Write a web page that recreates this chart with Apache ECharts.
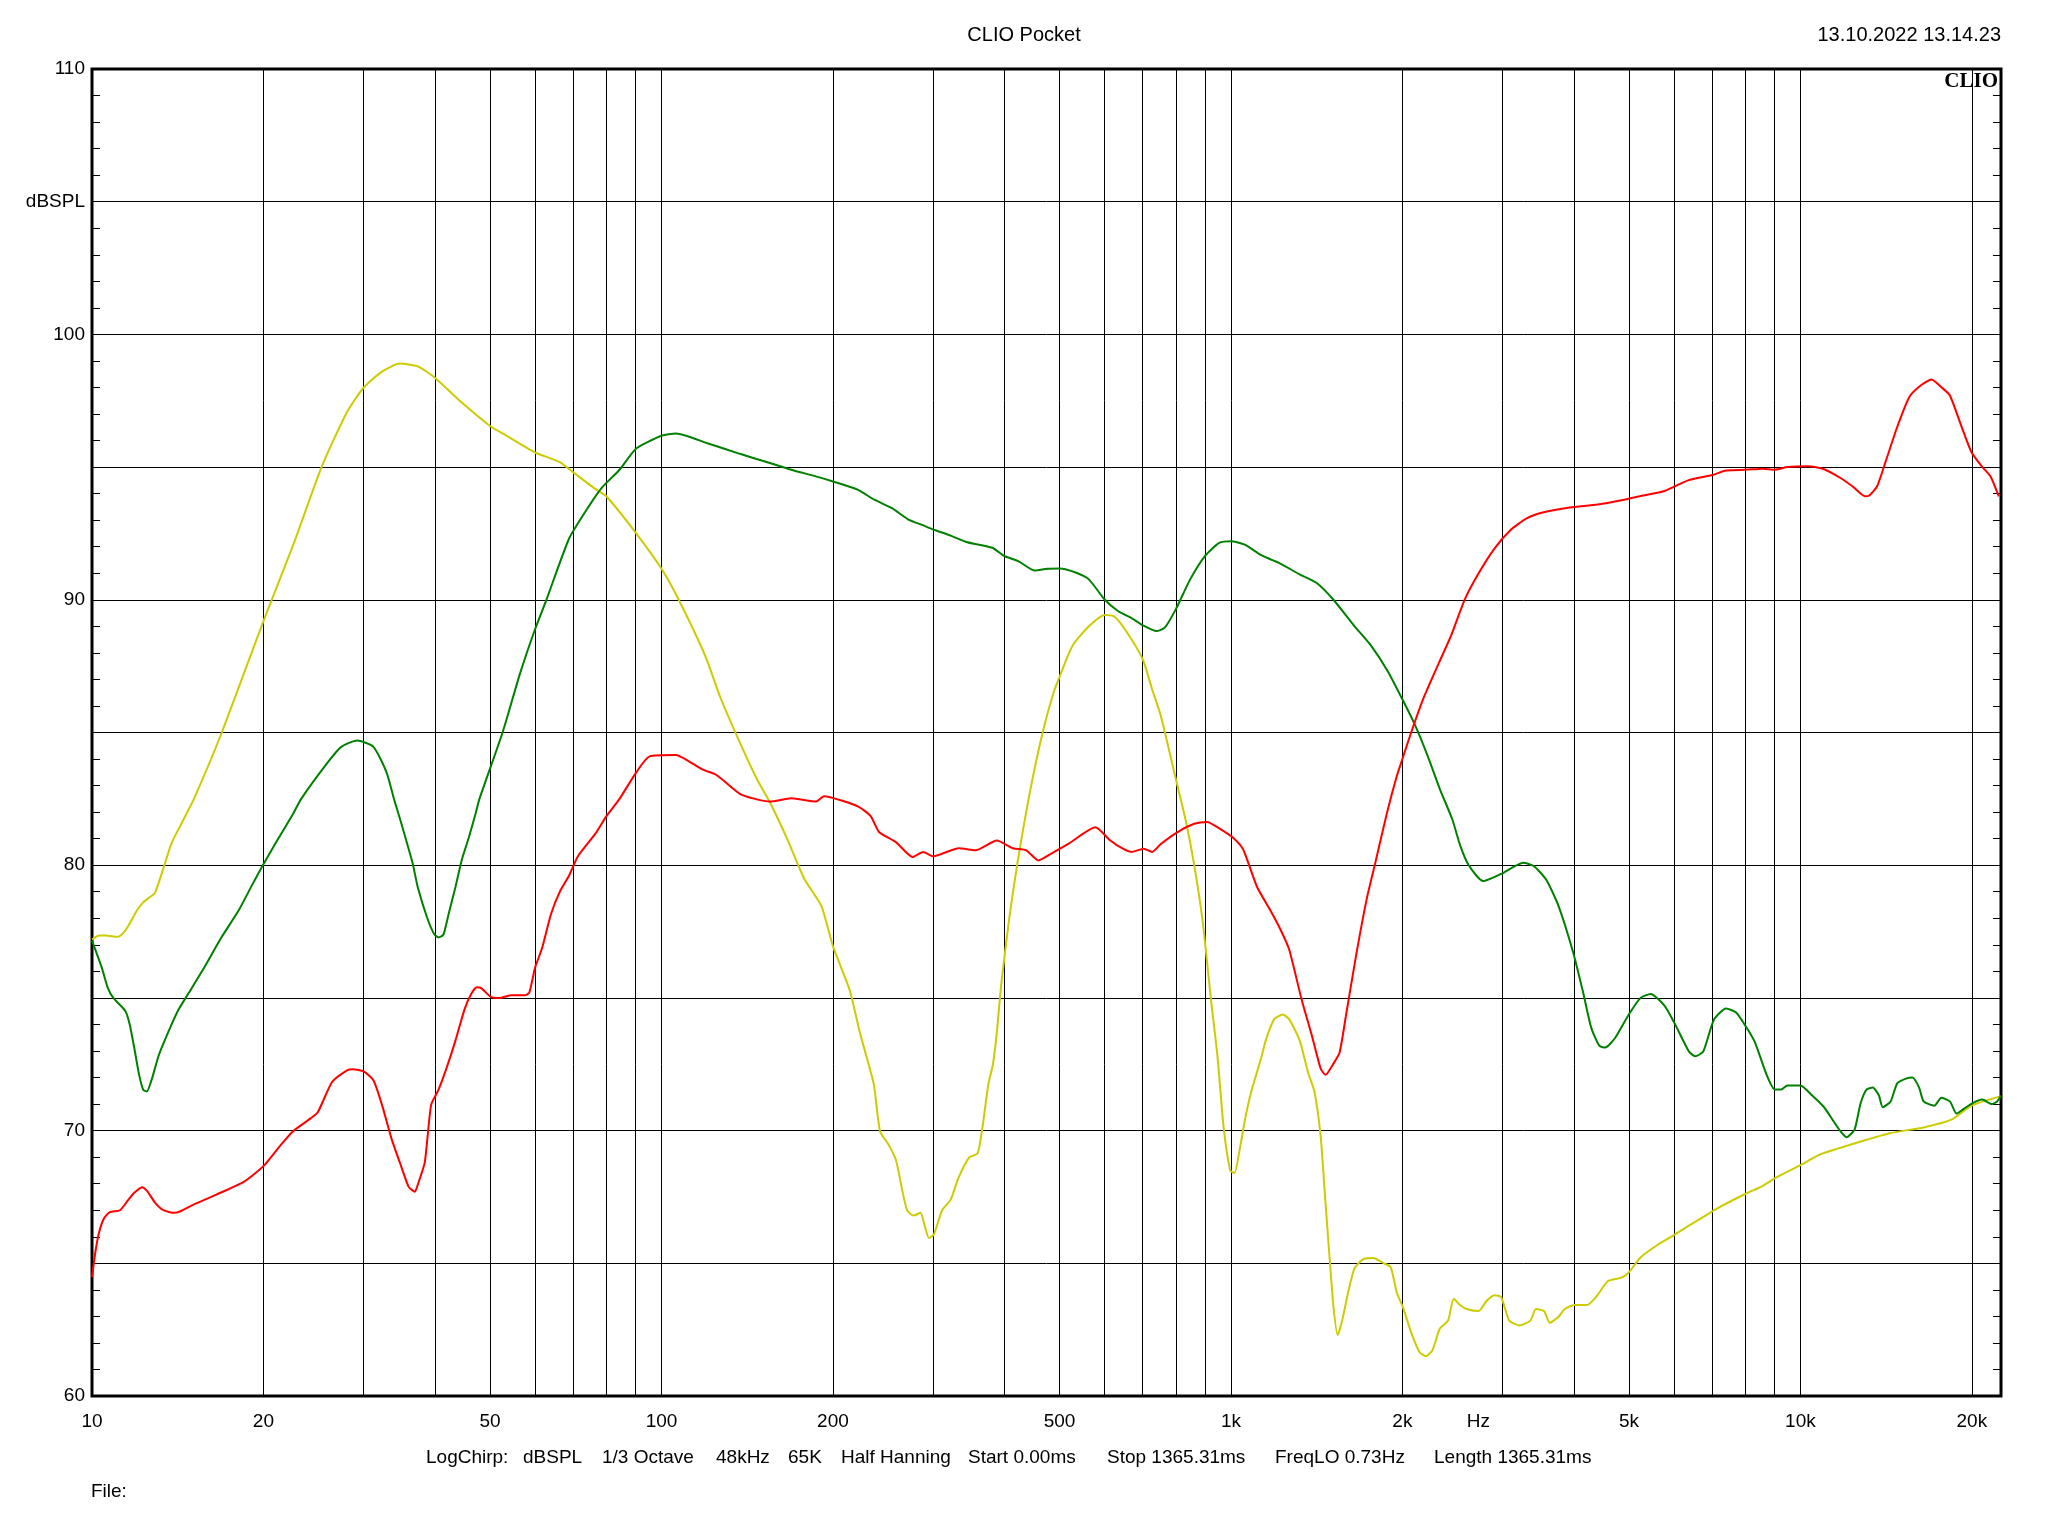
<!DOCTYPE html>
<html><head><meta charset="utf-8">
<script src="https://cdn.jsdelivr.net/npm/echarts@6/dist/echarts.min.js"></script>
<style>html,body{margin:0;padding:0;background:#fff}#c{width:2048px;height:1536px}</style>
</head><body><div id="c"></div>
<script>
// ---- data (frequency in Hz, level in dBSPL) ----
const yellowFreq = [10,10.3,10.55,11.1,11.35,11.6,12.0,12.3,12.6,12.9,13.4,13.8,14.3,15.1,16.9,20,22.5,25.3,28.0,30,32.3,34.7,37.3,40,44.6,50,53.5,60,66.4,70,76.6,80,90,100,107,119.3,127,137.3,147,155,166,178,191,200,214,223,229,236,242,250,258,265,270,277,285,290,295,301,311,322,332,347,359,366,375,382,388,395,408,422,444,467,488,500,527,563,600,624,657,700,727,753,800,834,862,892,923,947,971,997,1014,1040,1058,1085,1132,1151,1191,1233,1265,1320,1366,1402,1437,1462,1488,1513,1539,1566,1606,1647,1705,1778,1855,1908,1956,2004,2072,2144,2200,2258,2327,2405,2462,2524,2594,2723,2810,2902,2981,3081,3210,3355,3432,3546,3628,3758,3857,4011,4225,4377,4593,4834,4983,5239,5592,5976,6371,6811,7290,8015,8590,9011,10000,10820,12150,14350,16450,18450,19960,22470];
const yellowDb = [77.2,77.35,77.35,77.3,77.45,77.74,78.3,78.6,78.78,78.96,80.0,80.84,81.5,82.5,85.0,89.2,92.0,95.0,97.05,98.0,98.6,98.9,98.8,98.37,97.43,96.55,96.18,95.55,95.18,94.8,94.17,93.9,92.54,91.17,90.04,87.9,86.3,84.62,83.26,82.37,81.02,79.5,78.45,76.95,75.3,73.7,72.8,71.74,69.97,69.5,68.9,67.7,67.0,66.8,66.9,66.4,65.95,66.1,67.0,67.4,68.2,68.99,69.14,70.1,71.75,72.5,73.7,75.5,78.0,80.12,82.8,85.0,86.5,87.1,88.27,89.0,89.43,89.37,88.77,87.76,86.63,85.63,83.26,81.63,80.0,77.87,74.88,72.8,70.1,68.5,68.4,69.5,70.4,71.45,72.8,73.4,74.2,74.37,74.2,73.4,72.19,71.45,69.8,67.6,65.37,63.4,62.3,62.8,63.9,64.8,65.15,65.2,65.0,64.85,63.88,63.35,62.4,61.65,61.5,61.72,62.54,62.84,63.66,63.43,63.28,63.2,63.58,63.8,63.73,62.84,62.66,62.84,63.28,63.2,62.76,62.98,63.28,63.43,63.43,63.73,64.33,64.45,64.63,65.22,65.67,66.04,66.42,66.8,67.17,67.62,67.92,68.2,68.7,69.1,69.45,69.9,70.12,70.42,70.94,71.3];

const greenFreq = [10,10.4,10.65,10.9,11.45,11.65,11.86,12.1,12.3,12.48,12.75,13.1,13.7,14.2,14.8,15.6,16.9,18.1,19.1,20,21.3,22.5,23.3,26.0,27.4,29.2,31.2,32.9,33.9,34.9,36.6,37.3,38.8,39.9,40.6,41.4,42.3,43.5,44.6,45.9,47.1,47.9,52.6,56.4,60,62.8,68.8,73.4,78.4,84.4,90.3,100,106.1,120.4,137.3,152,168.9,186.7,200,221,236.5,253.6,271.4,286,300,321.7,344.4,381,400,423,452.5,476,500,535,563,600,634,668,700,740,765,800,848,900,955,1000,1058,1132,1212,1320,1413,1512,1646,1762,1886,2000,2108,2215,2327,2446,2527,2615,2772,2981,3262,3401,3578,3758,3984,4152,4291,4433,4541,4730,4981,5239,5458,5775,6016,6371,6532,6751,7048,7402,7710,8015,8313,8733,9011,9252,9485,10000,10475,11004,11370,11755,12050,12450,12750,13070,13400,13730,13950,14400,14790,15320,15730,16160,16450,17190,17670,18300,18800,19300,19990,20850,21670,22150,22470];
const greenDb = [77.16,76.15,75.4,75.0,74.5,73.99,73.13,72.1,71.54,71.47,71.97,72.84,73.85,74.57,75.2,76.0,77.3,78.3,79.25,80.04,81.05,81.9,82.5,83.9,84.46,84.7,84.46,83.5,82.5,81.6,80.04,79.2,78.0,77.4,77.28,77.38,78.17,79.2,80.2,81.05,81.9,82.5,85.0,87.2,88.9,90.0,92.3,93.3,94.2,94.9,95.7,96.18,96.27,95.9,95.5,95.21,94.9,94.65,94.46,94.15,93.77,93.46,93.02,92.83,92.65,92.42,92.17,91.96,91.65,91.46,91.1,91.17,91.18,91.02,90.77,90.01,89.57,89.32,89.04,88.82,88.95,89.64,90.77,91.65,92.15,92.21,92.08,91.67,91.4,90.96,90.64,90.01,89.02,88.27,87.3,86.25,85.25,84.12,82.87,81.74,80.74,80.0,79.4,79.67,80.09,79.97,79.45,78.48,76.76,75.22,73.88,73.2,73.13,73.5,74.33,75.0,75.15,74.7,74.03,72.98,72.8,72.98,74.18,74.6,74.45,73.93,73.34,72.07,71.55,71.55,71.7,71.7,71.33,70.88,70.43,69.98,69.75,70.05,71.02,71.55,71.62,71.33,70.88,71.1,71.78,71.96,72.0,71.62,71.1,70.94,71.24,71.1,70.64,70.8,71.02,71.17,71.0,71.1,71.3];

const redFreq = [10,10.15,10.3,10.5,10.75,11.2,11.55,11.85,12.25,12.5,12.9,13.35,13.95,14.3,15.1,16.5,18.5,20,21.3,22.5,24.2,24.9,26.4,28.0,28.7,30,31.2,32.3,33.6,34.9,36.0,36.9,37.3,38.4,39.4,40.6,42.0,43.5,45.1,46.3,47.4,48.3,50.2,52.1,54.5,57.5,58.6,60,61.7,64.0,66.4,68.8,71.3,76.6,80,84.4,90.3,95.3,106.1,110,118.2,124.9,137.3,146,155,169,187,193,207,222,233,241,258,276,288,300,333,356,388,414,437,459,483,518,578,614,646,668,703,727,753,806,862,908,955,1005,1049,1076,1113,1171,1222,1265,1331,1389,1437,1466,1511,1551,1591,1661,1733,1793,1878,1956,2000,2072,2174,2318,2432,2572,2722,2904,3098,3305,3526,3937,4408,4929,5243,5773,6349,7011,7401,8015,8587,9011,9485,10302,11004,11755,12351,12979,13194,13630,14082,14794,15540,16325,16992,17699,18300,19200,19960,20867,21568,22300];
const redDb = [64.48,65.5,66.2,66.7,66.93,67.0,67.36,67.65,67.87,67.72,67.29,67.0,66.9,66.96,67.22,67.58,68.08,68.66,69.38,69.96,70.46,70.68,71.83,72.26,72.31,72.23,71.9,70.97,69.67,68.66,67.87,67.7,67.94,68.8,70.97,71.54,72.4,73.41,74.57,75.14,75.4,75.36,75.03,75.0,75.1,75.1,75.2,76.15,76.87,78.17,79.03,79.6,80.33,81.2,81.84,82.5,83.5,84.1,84.15,84.0,83.6,83.4,82.69,82.5,82.4,82.52,82.4,82.6,82.44,82.2,81.85,81.25,80.87,80.31,80.5,80.34,80.64,80.56,80.93,80.64,80.56,80.18,80.43,80.8,81.43,80.93,80.62,80.5,80.62,80.5,80.8,81.25,81.56,81.63,81.38,81.06,80.62,80.0,79.15,78.32,77.57,76.83,74.93,73.53,72.34,72.1,72.5,72.93,74.3,76.68,78.77,80.1,81.95,83.37,84.0,85.0,86.25,87.62,88.62,90.0,91.0,91.94,92.63,93.07,93.29,93.48,93.59,93.78,93.91,94.1,94.5,94.7,94.87,94.9,94.94,94.9,95.0,95.03,94.92,94.59,94.27,93.9,93.92,94.27,95.15,96.52,97.65,98.1,98.3,98.0,97.7,96.5,95.57,95.0,94.65,93.9];

// ---- axis tick values ----
const gridFreqs = [20,30,40,50,60,70,80,90,100,200,300,400,500,600,700,800,900,1000,2000,3000,4000,5000,6000,7000,8000,9000,10000,20000];
const labelFreqs = [10,20,50,100,200,500,1000,2000,2720,5000,10000,20000];
const labelTexts = ['10','20','50','100','200','500','1k','2k','Hz','5k','10k','20k'];

// ---- footer info text ----
const infoTexts = ['LogChirp:', 'dBSPL', '1/3 Octave', '48kHz', '65K', 'Half Hanning', 'Start 0.00ms', 'Stop 1365.31ms', 'FreqLO 0.73Hz', 'Length 1365.31ms'];
const infoLeft = [426, 523, 602, 716, 788, 841, 968, 1107, 1275, 1434];

const zip = (f, d) => f.map((x, i) => [x, d[i]]);
const FONT = 'Liberation Sans';
const txt = (size, weight, family) => ({fontSize: size, fontWeight: weight || 'normal', fontFamily: family || FONT, color: '#000'});

const titles = [
  {text: 'CLIO Pocket', left: 1024, top: 25, padding: 0, textAlign: 'center', textStyle: txt(20)},
  {text: '13.10.2022 13.14.23', right: 47, top: 25, padding: 0, textStyle: txt(20)},
  {text: 'CLIO', right: 50, top: 71, padding: 0, textStyle: txt(21, 'bold', 'Liberation Serif')},
  {text: 'File:', left: 91, top: 1482, padding: 0, textStyle: txt(19)}
];
infoTexts.forEach((t, i) => titles.push({text: t, left: infoLeft[i], top: 1448, padding: 0, textStyle: txt(19)}));

const chart = echarts.init(document.getElementById('c'), null, {renderer: 'canvas'});
chart.setOption({
  animation: false,
  backgroundColor: '#fff',
  title: titles,
  grid: {left: 92, right: 47, top: 69, bottom: 140, show: true, borderColor: '#000', borderWidth: 3, backgroundColor: 'transparent'},
  xAxis: {
    type: 'log', logBase: 10, min: 10, max: 22500,
    axisLine: {show: false},
    axisTick: {show: false, customValues: gridFreqs},
    axisLabel: {
      customValues: labelFreqs,
      formatter: v => { const i = labelFreqs.indexOf(v); return i >= 0 ? labelTexts[i] : ''; },
      color: '#000', fontSize: 19, fontFamily: FONT, margin: 16
    },
    splitLine: {show: true, lineStyle: {color: '#000', width: 1}}
  },
  yAxis: [
    {
      type: 'value', min: 60, max: 110, interval: 5, position: 'left',
      axisLine: {show: false},
      axisTick: {show: false, inside: true},
      minorTick: {show: true, splitNumber: 5, length: 8, lineStyle: {color: '#000', width: 1}},
      axisLabel: {formatter: v => v % 10 === 0 ? String(v) : (v === 105 ? 'dBSPL' : ''),
        color: '#000', fontSize: 19, fontFamily: FONT, margin: 7},
      splitLine: {show: true, lineStyle: {color: '#000', width: 1}}
    },
    {
      type: 'value', min: 60, max: 110, interval: 5, position: 'right',
      axisLine: {show: false},
      axisTick: {show: false, inside: true},
      minorTick: {show: true, splitNumber: 5, length: 8, lineStyle: {color: '#000', width: 1}},
      axisLabel: {show: false},
      splitLine: {show: false}
    }
  ],
  series: [
    {type: 'line', name: 'yellow', data: zip(yellowFreq, yellowDb), showSymbol: false, smooth: 0.2,
     lineStyle: {color: '#CCCC00', width: 2}, itemStyle: {color: '#CCCC00'}, z: 3},
    {type: 'line', name: 'green', data: zip(greenFreq, greenDb), showSymbol: false, smooth: 0.2,
     lineStyle: {color: '#008000', width: 2}, itemStyle: {color: '#008000'}, z: 4},
    {type: 'line', name: 'red', data: zip(redFreq, redDb), showSymbol: false, smooth: 0.2,
     lineStyle: {color: '#FF0000', width: 2}, itemStyle: {color: '#FF0000'}, z: 5}
  ]
});
</script></body></html>
